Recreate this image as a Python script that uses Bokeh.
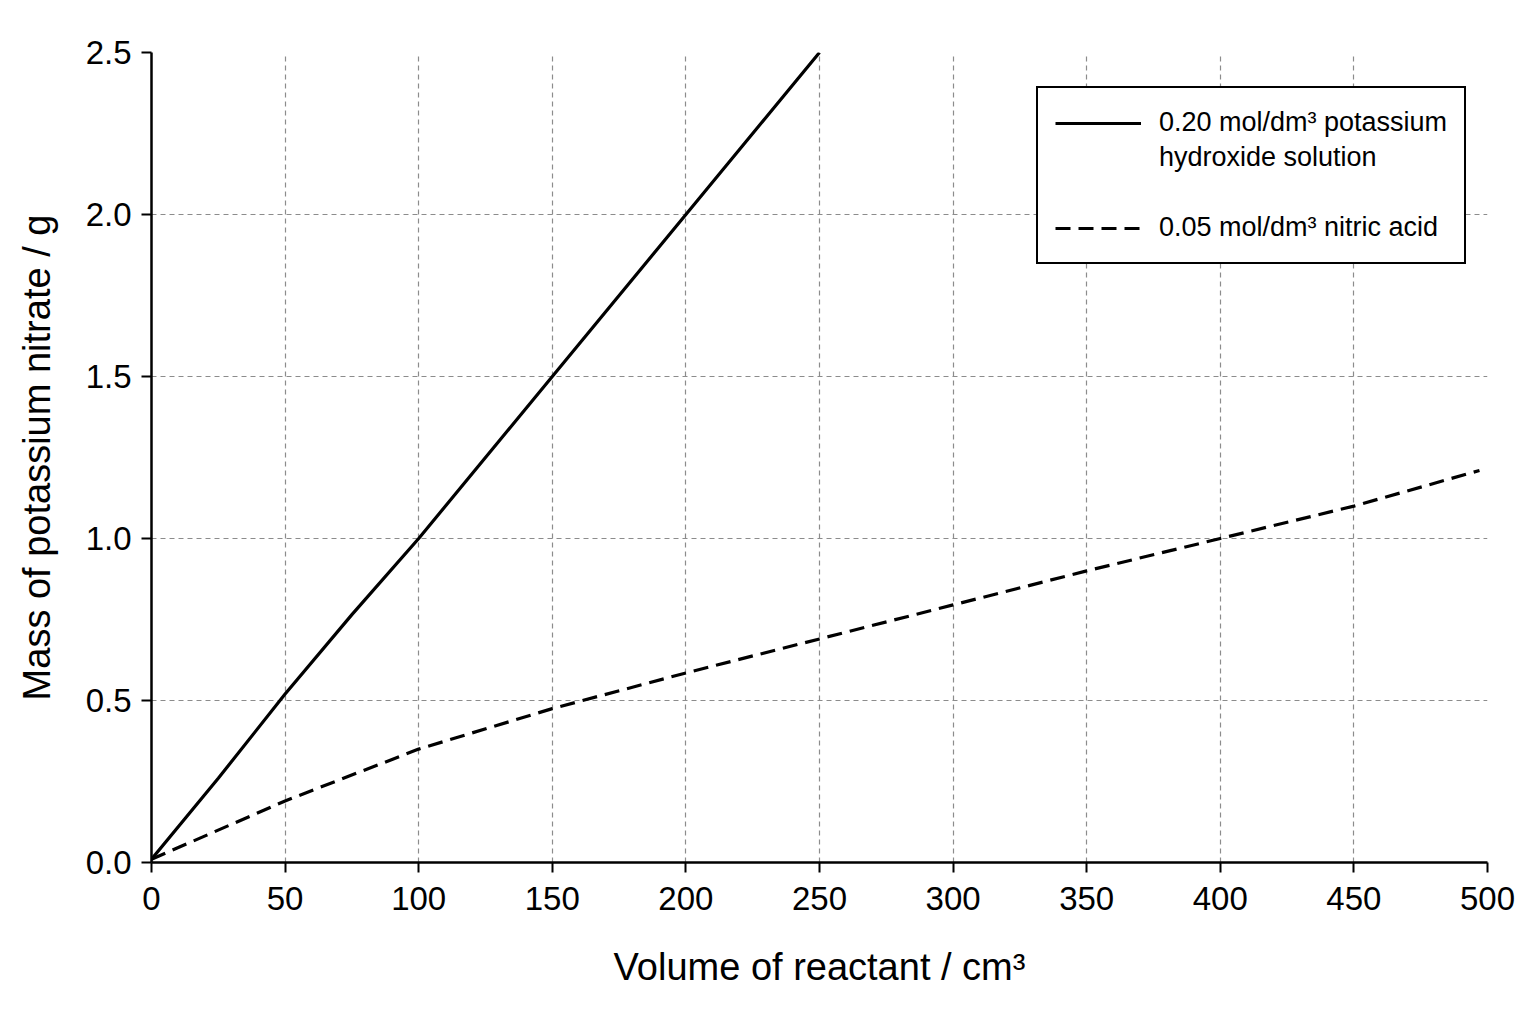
from bokeh.plotting import figure
from bokeh.models import Legend, LegendItem, FixedTicker, NumeralTickFormatter, Range1d
from bokeh.embed import file_html
from bokeh.resources import INLINE

# values
koh_volume = [0, 25, 50, 75, 100, 150, 200, 250]
koh_mass = [0.01, 0.26, 0.52, 0.765, 1.0, 1.5, 2.0, 2.5]

acid_volume = [0, 50, 100, 150, 200, 250, 300, 350, 400, 450, 497]
acid_mass = [0.01, 0.19, 0.35, 0.475, 0.585, 0.69, 0.795, 0.90, 1.0, 1.10, 1.21]

x_ticks = [0, 50, 100, 150, 200, 250, 300, 350, 400, 450, 500]
y_ticks = [0.0, 0.5, 1.0, 1.5, 2.0, 2.5]

FONT = "Liberation Sans"

p = figure(width=1520, height=1000, output_backend="svg", toolbar_location=None,
           x_range=Range1d(0, 500), y_range=Range1d(0, 2.5),
           x_axis_label="Volume of reactant / cm³",
           y_axis_label="Mass of potassium nitrate / g")
p.min_border_left = 151
p.min_border_top = 52
p.min_border_right = 33
p.min_border_bottom = 138
p.outline_line_color = None

for ax in (p.xaxis[0], p.yaxis[0]):
    ax.axis_line_width = 2.5
    ax.axis_line_color = "black"
    ax.major_tick_line_width = 2
    ax.major_tick_line_color = "black"
    ax.major_tick_out = 10
    ax.major_tick_in = 0
    ax.minor_tick_line_color = None
    ax.major_label_text_font = FONT
    ax.major_label_text_font_size = "33px"
    ax.major_label_text_color = "black"
    ax.axis_label_text_font = FONT
    ax.axis_label_text_font_size = "38px"
    ax.axis_label_text_font_style = "normal"
    ax.axis_label_text_color = "black"

p.xaxis.ticker = FixedTicker(ticks=x_ticks)
p.yaxis.ticker = FixedTicker(ticks=y_ticks)
p.yaxis.formatter = NumeralTickFormatter(format="0.0")
p.xaxis.major_label_standoff = 14
p.yaxis.major_label_standoff = 10
p.xaxis.axis_label_standoff = 33
p.yaxis.axis_label_standoff = 25

p.grid.grid_line_color = "#8c8c8c"
p.grid.grid_line_dash = "5 4"
p.grid.grid_line_width = 1.2

koh = p.line(koh_volume, koh_mass, line_color="black", line_width=3.2)
acid = p.line(acid_volume, acid_mass, line_color="black", line_width=3.2, line_dash="15 8")
blank = p.line([], [], line_alpha=0)

legend = Legend(items=[
    LegendItem(label="0.20 mol/dm³ potassium", renderers=[koh]),
    LegendItem(label="hydroxide solution", renderers=[blank]),
    LegendItem(label=" ", renderers=[blank]),
    LegendItem(label="0.05 mol/dm³ nitric acid", renderers=[acid]),
], location=(885, 598))
legend.label_text_font = FONT
legend.label_text_font_size = "27px"
legend.label_text_color = "black"
legend.glyph_width = 86
legend.label_standoff = 18
legend.label_height = 35
legend.spacing = 0
legend.padding = 17
legend.margin = 0
legend.border_line_color = "black"
legend.border_line_alpha = 1
legend.border_line_width = 2
legend.background_fill_color = "white"
legend.background_fill_alpha = 1
p.add_layout(legend, "center")

open("out.html", "w").write(file_html(p, INLINE))
